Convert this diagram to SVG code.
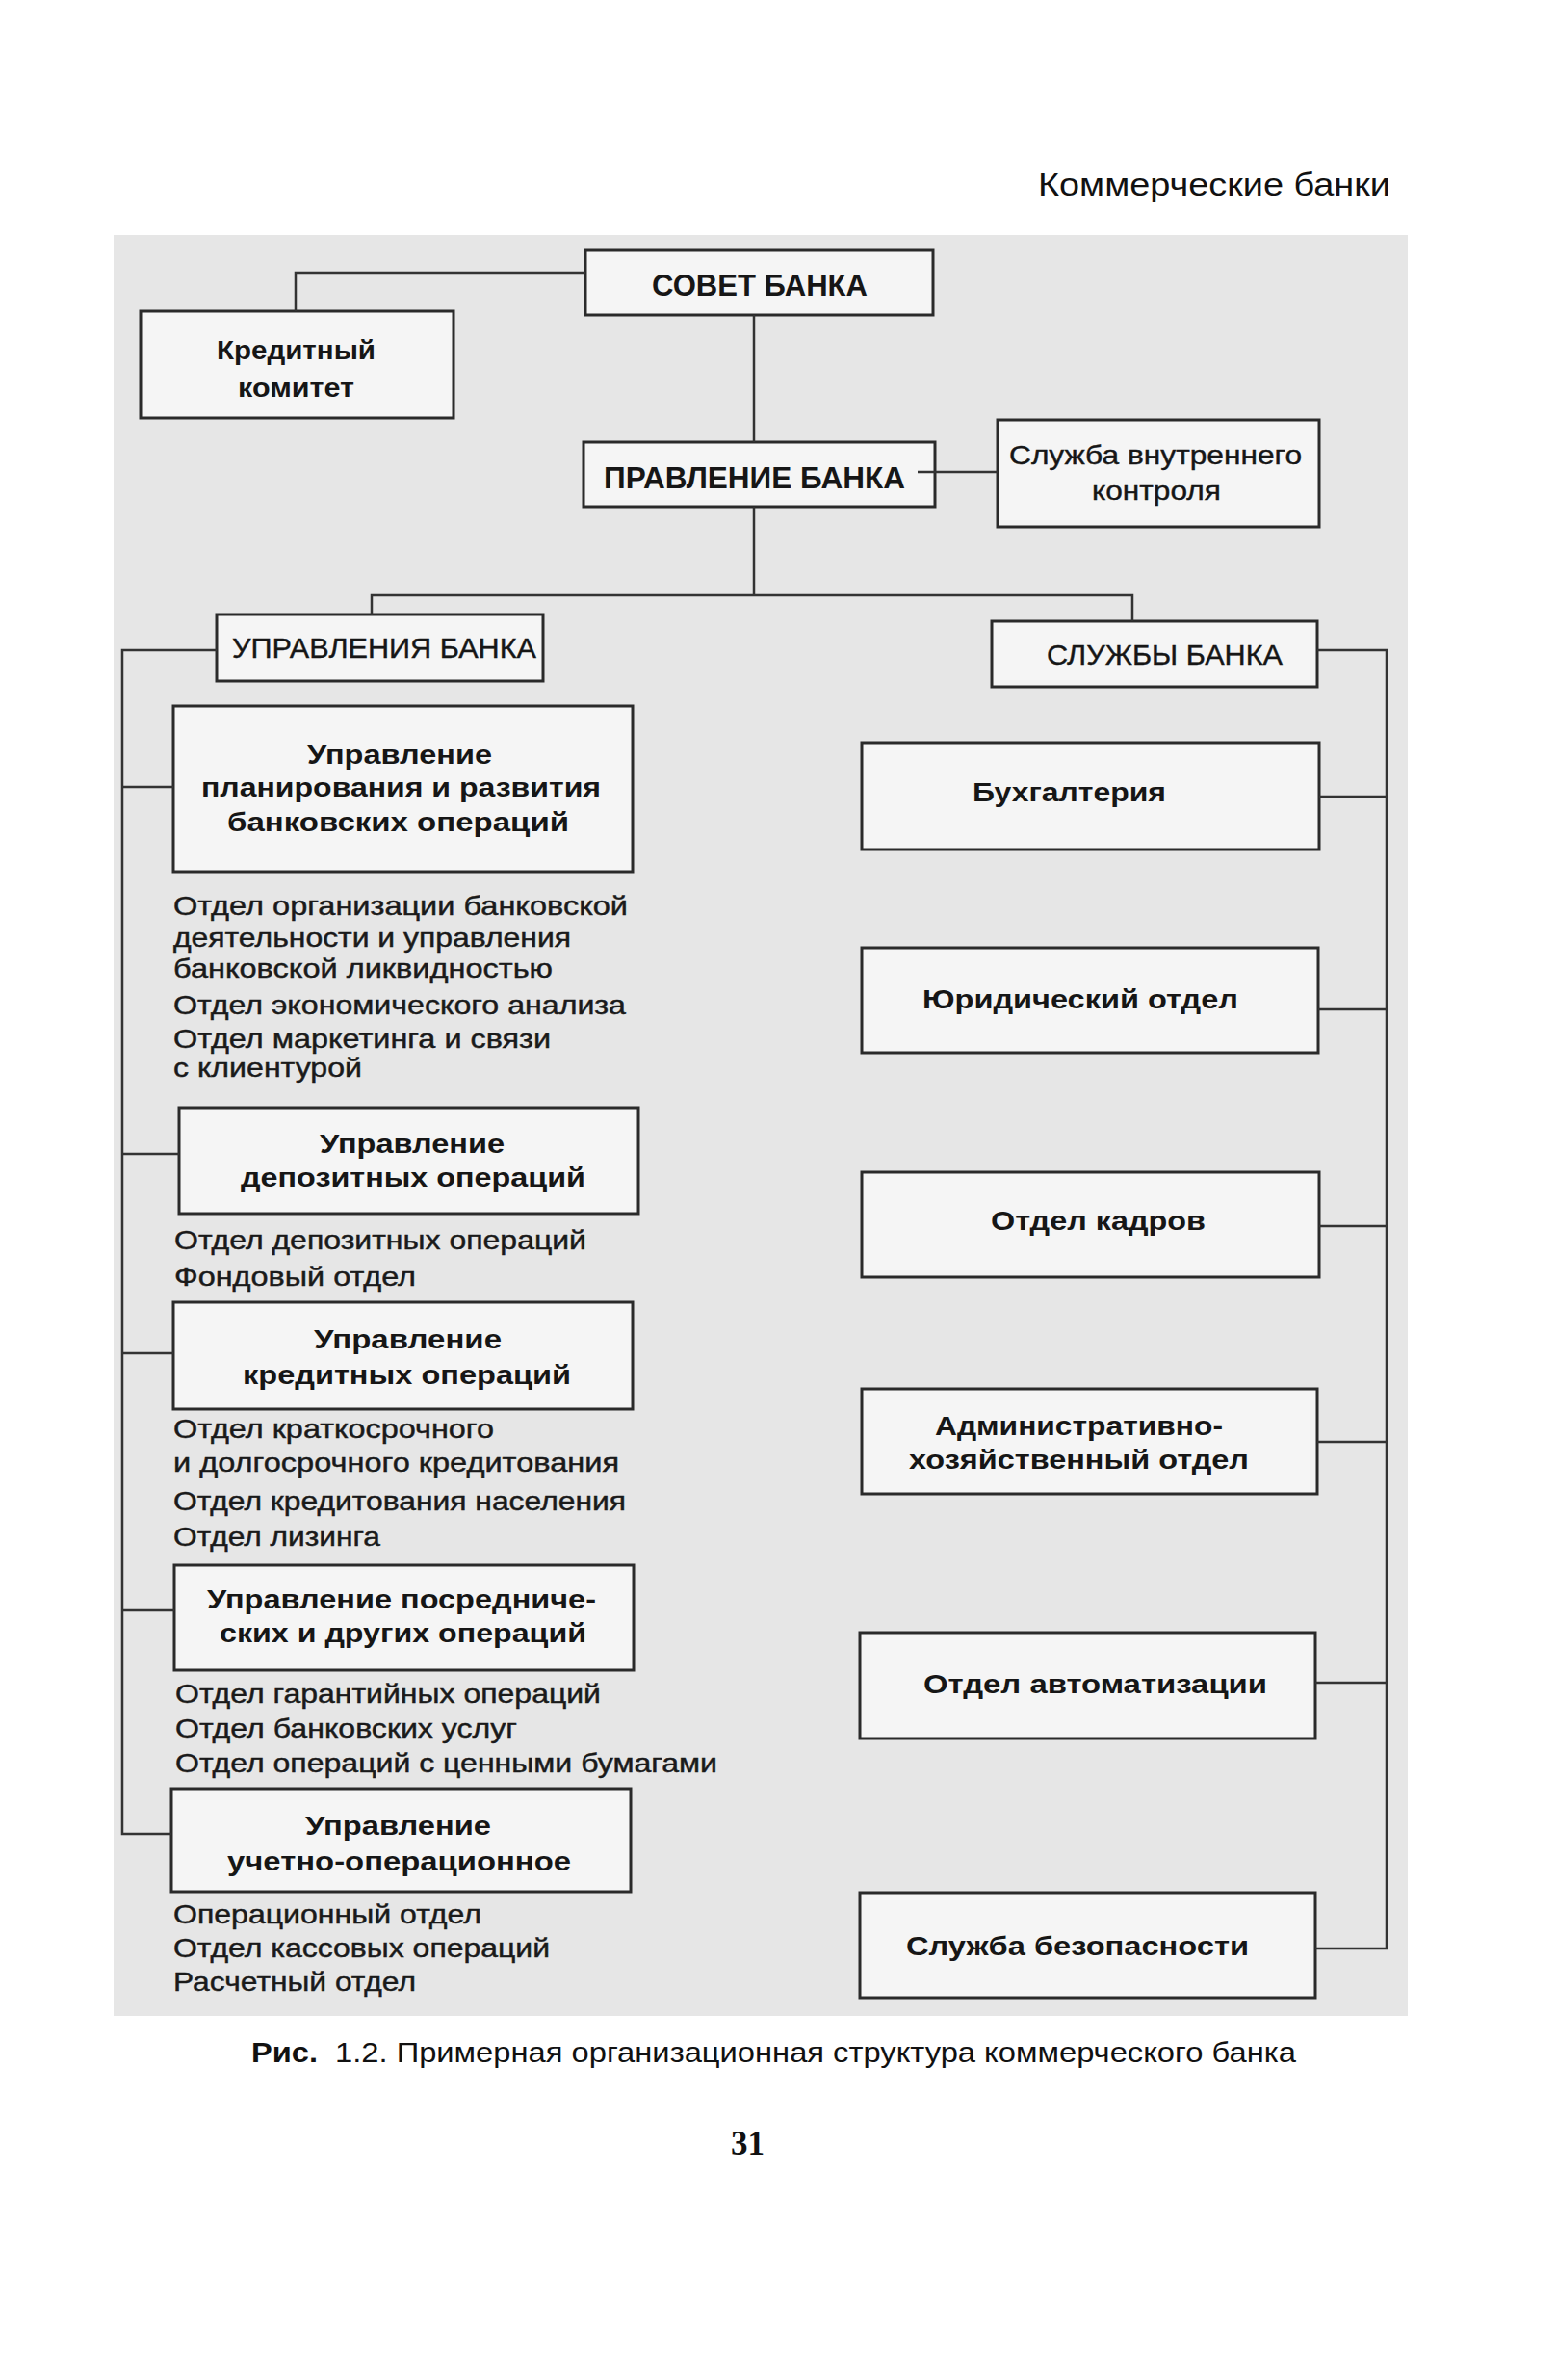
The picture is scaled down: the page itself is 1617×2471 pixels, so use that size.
<svg xmlns="http://www.w3.org/2000/svg" width="1617" height="2471" viewBox="0 0 1617 2471">
<style>
.bg{fill:#e6e6e6}
.box{fill:#f5f5f5;stroke:#2a2a2a;stroke-width:3}
.ln{fill:none;stroke:#333;stroke-width:2.5}
text{font-family:"Liberation Sans",Arial,sans-serif;fill:#161616}
.t{font-size:28.5px;font-weight:bold}
.tb{font-size:31px;font-weight:bold}
.tr{font-size:28px;stroke:#161616;stroke-width:0.4}
.it{font-size:27.5px;fill:#1a1a1a;stroke:#1a1a1a;stroke-width:0.45}
.hd{font-size:33px;fill:#111}
.cap{font-size:30px;fill:#111}
.pg{font-family:"Liberation Serif","Times New Roman",serif;font-size:35px;font-weight:bold;fill:#111}
</style>
<rect width="1617" height="2471" fill="#ffffff"/>
<text class="hd" x="1078" y="203" textLength="366" lengthAdjust="spacingAndGlyphs">Коммерческие банки</text>
<rect class="bg" x="118" y="244" width="1344" height="1849"/>

<g id="sovet">
<rect class="box" x="608" y="260" width="361" height="67"/>
<text class="tb" x="677" y="307" textLength="224" lengthAdjust="spacingAndGlyphs">СОВЕТ БАНКА</text>
</g>
<g id="kredit-komitet">
<rect class="box" x="146" y="323" width="325" height="111"/>
<text class="t" x="225" y="373" textLength="165" lengthAdjust="spacingAndGlyphs">Кредитный</text>
<text class="t" x="247" y="412" textLength="121" lengthAdjust="spacingAndGlyphs">комитет</text>
</g>
<g id="pravlenie">
<rect class="box" x="606" y="459" width="365" height="67"/>
<text class="tb" x="627" y="507" textLength="313" lengthAdjust="spacingAndGlyphs">ПРАВЛЕНИЕ БАНКА</text>
</g>
<g id="vnutr-kontrol">
<rect class="box" x="1036" y="436" width="334" height="111"/>
<text class="tr" x="1048" y="482" textLength="304" lengthAdjust="spacingAndGlyphs">Служба внутреннего</text>
<text class="tr" x="1134" y="519" textLength="134" lengthAdjust="spacingAndGlyphs">контроля</text>
</g>
<g id="upravleniya">
<rect class="box" x="225" y="638" width="339" height="69"/>
<text class="tr" style="font-size:29px" x="241" y="683" textLength="316" lengthAdjust="spacingAndGlyphs">УПРАВЛЕНИЯ БАНКА</text>
</g>
<g id="sluzhby">
<rect class="box" x="1030" y="645" width="338" height="68"/>
<text class="tr" style="font-size:29px" x="1087" y="690" textLength="245" lengthAdjust="spacingAndGlyphs">СЛУЖБЫ БАНКА</text>
</g>

<g id="upr-planirovaniya">
<rect class="box" x="180" y="733" width="477" height="172"/>
<text class="t" x="319" y="793" textLength="192" lengthAdjust="spacingAndGlyphs">Управление</text>
<text class="t" x="209" y="827" textLength="415" lengthAdjust="spacingAndGlyphs">планирования и развития</text>
<text class="t" x="236" y="863" textLength="355" lengthAdjust="spacingAndGlyphs">банковских операций</text>
<text class="it" x="180" y="950" textLength="472" lengthAdjust="spacingAndGlyphs">Отдел организации банковской</text>
<text class="it" x="180" y="983" textLength="413" lengthAdjust="spacingAndGlyphs">деятельности и управления</text>
<text class="it" x="180" y="1015" textLength="394" lengthAdjust="spacingAndGlyphs">банковской ликвидностью</text>
<text class="it" x="180" y="1053" textLength="470" lengthAdjust="spacingAndGlyphs">Отдел экономического анализа</text>
<text class="it" x="180" y="1088" textLength="392" lengthAdjust="spacingAndGlyphs">Отдел маркетинга и связи</text>
<text class="it" x="180" y="1118" textLength="196" lengthAdjust="spacingAndGlyphs">с клиентурой</text>
</g>
<g id="upr-depozitnyh">
<rect class="box" x="186" y="1150" width="477" height="110"/>
<text class="t" x="332" y="1197" textLength="192" lengthAdjust="spacingAndGlyphs">Управление</text>
<text class="t" x="250" y="1232" textLength="358" lengthAdjust="spacingAndGlyphs">депозитных операций</text>
<text class="it" x="181" y="1297" textLength="428" lengthAdjust="spacingAndGlyphs">Отдел депозитных операций</text>
<text class="it" x="181" y="1335" textLength="251" lengthAdjust="spacingAndGlyphs">Фондовый отдел</text>
</g>
<g id="upr-kreditnyh">
<rect class="box" x="180" y="1352" width="477" height="111"/>
<text class="t" x="326" y="1400" textLength="195" lengthAdjust="spacingAndGlyphs">Управление</text>
<text class="t" x="252" y="1437" textLength="341" lengthAdjust="spacingAndGlyphs">кредитных операций</text>
<text class="it" x="180" y="1493" textLength="333" lengthAdjust="spacingAndGlyphs">Отдел краткосрочного</text>
<text class="it" x="180" y="1528" textLength="463" lengthAdjust="spacingAndGlyphs">и долгосрочного кредитования</text>
<text class="it" x="180" y="1568" textLength="470" lengthAdjust="spacingAndGlyphs">Отдел кредитования населения</text>
<text class="it" x="180" y="1605" textLength="215" lengthAdjust="spacingAndGlyphs">Отдел лизинга</text>
</g>
<g id="upr-posrednicheskih">
<rect class="box" x="181" y="1625" width="477" height="109"/>
<text class="t" x="215" y="1670" textLength="404" lengthAdjust="spacingAndGlyphs">Управление посредниче-</text>
<text class="t" x="228" y="1705" textLength="381" lengthAdjust="spacingAndGlyphs">ских и других операций</text>
<text class="it" x="182" y="1768" textLength="442" lengthAdjust="spacingAndGlyphs">Отдел гарантийных операций</text>
<text class="it" x="182" y="1804" textLength="355" lengthAdjust="spacingAndGlyphs">Отдел банковских услуг</text>
<text class="it" x="182" y="1840" textLength="563" lengthAdjust="spacingAndGlyphs">Отдел операций с ценными бумагами</text>
</g>
<g id="upr-uchetno">
<rect class="box" x="178" y="1857" width="477" height="107"/>
<text class="t" x="317" y="1905" textLength="193" lengthAdjust="spacingAndGlyphs">Управление</text>
<text class="t" x="236" y="1942" textLength="357" lengthAdjust="spacingAndGlyphs">учетно-операционное</text>
<text class="it" x="180" y="1997" textLength="320" lengthAdjust="spacingAndGlyphs">Операционный отдел</text>
<text class="it" x="180" y="2032" textLength="391" lengthAdjust="spacingAndGlyphs">Отдел кассовых операций</text>
<text class="it" x="180" y="2067" textLength="252" lengthAdjust="spacingAndGlyphs">Расчетный отдел</text>
</g>

<g id="buhgalteriya">
<rect class="box" x="895" y="771" width="475" height="111"/>
<text class="t" x="1010" y="832" textLength="201" lengthAdjust="spacingAndGlyphs">Бухгалтерия</text>
</g>
<g id="yuridicheskiy">
<rect class="box" x="895" y="984" width="474" height="109"/>
<text class="t" x="958" y="1047" textLength="328" lengthAdjust="spacingAndGlyphs">Юридический отдел</text>
</g>
<g id="kadrov">
<rect class="box" x="895" y="1217" width="475" height="109"/>
<text class="t" x="1029" y="1277" textLength="223" lengthAdjust="spacingAndGlyphs">Отдел кадров</text>
</g>
<g id="aho">
<rect class="box" x="895" y="1442" width="473" height="109"/>
<text class="t" x="971" y="1490" textLength="299" lengthAdjust="spacingAndGlyphs">Административно-</text>
<text class="t" x="944" y="1525" textLength="353" lengthAdjust="spacingAndGlyphs">хозяйственный отдел</text>
</g>
<g id="avtomatizacii">
<rect class="box" x="893" y="1695" width="473" height="110"/>
<text class="t" x="959" y="1758" textLength="357" lengthAdjust="spacingAndGlyphs">Отдел автоматизации</text>
</g>
<g id="bezopasnosti">
<rect class="box" x="893" y="1965" width="473" height="109"/>
<text class="t" x="941" y="2030" textLength="356" lengthAdjust="spacingAndGlyphs">Служба безопасности</text>
</g>

<g id="connectors">
<polyline class="ln" points="608,283 307,283 307,323"/>
<line class="ln" x1="783" y1="327" x2="783" y2="459"/>
<line class="ln" x1="953" y1="490" x2="1036" y2="490"/>
<line class="ln" x1="783" y1="526" x2="783" y2="618"/>
<polyline class="ln" points="386,638 386,618 1176,618 1176,645"/>
<polyline class="ln" points="225,675 127,675 127,1904 178,1904"/>
<line class="ln" x1="127" y1="817" x2="180" y2="817"/>
<line class="ln" x1="127" y1="1198" x2="186" y2="1198"/>
<line class="ln" x1="127" y1="1405" x2="180" y2="1405"/>
<line class="ln" x1="127" y1="1672" x2="181" y2="1672"/>
<polyline class="ln" points="1368,675 1440,675 1440,2023 1366,2023"/>
<line class="ln" x1="1440" y1="827" x2="1370" y2="827"/>
<line class="ln" x1="1440" y1="1048" x2="1369" y2="1048"/>
<line class="ln" x1="1440" y1="1273" x2="1370" y2="1273"/>
<line class="ln" x1="1440" y1="1497" x2="1368" y2="1497"/>
<line class="ln" x1="1440" y1="1747" x2="1366" y2="1747"/>
</g>

<text class="cap" x="261" y="2141" font-weight="bold" textLength="69" lengthAdjust="spacingAndGlyphs">Рис.</text>
<text class="cap" x="348" y="2141" textLength="998" lengthAdjust="spacingAndGlyphs">1.2. Примерная организационная структура коммерческого банка</text>
<text class="pg" x="759" y="2237" textLength="35" lengthAdjust="spacingAndGlyphs">31</text>
</svg>
